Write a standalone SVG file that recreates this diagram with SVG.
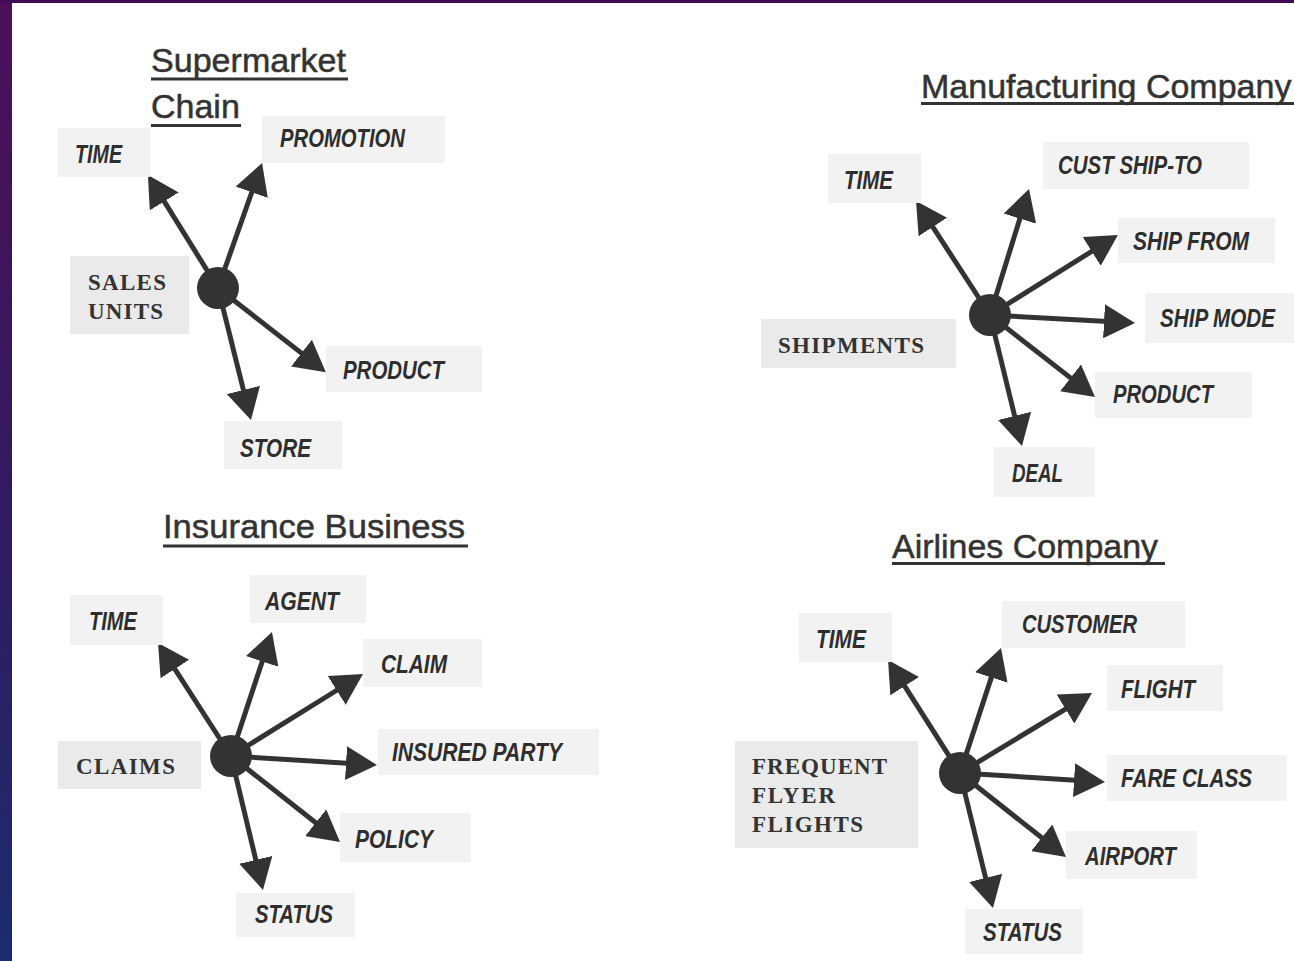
<svg xmlns="http://www.w3.org/2000/svg" width="1294" height="961" viewBox="0 0 1294 961">
<defs>
<linearGradient id="side" x1="0" y1="0" x2="0" y2="1">
<stop offset="0" stop-color="#4a0f57"/>
<stop offset="0.5" stop-color="#32195f"/>
<stop offset="1" stop-color="#1b2c6c"/>
</linearGradient>
<marker id="ah" viewBox="0 0 31 34" refX="13" refY="17" markerWidth="31" markerHeight="34" markerUnits="userSpaceOnUse" orient="auto">
<path d="M0,0 L31,17 L0,34 Z" fill="#333"/>
</marker>
<style>
.dim{fill:#f2f2f2}
.fact{fill:#eaeaea}
.dl{font-family:"Liberation Sans",Arial,sans-serif;font-weight:bold;font-style:italic;font-size:25px;fill:#2e2e2e}
.fl{font-family:"Liberation Serif","Times New Roman",serif;font-weight:bold;font-size:23px;fill:#333}
.tt{font-family:"Liberation Sans",Arial,sans-serif;font-size:34px;fill:#333;stroke:#333;stroke-width:0.5}
.ul{fill:#333}
.hub{fill:#333}
.cn line{stroke:#333;stroke-width:5;marker-end:url(#ah)}
</style>
</defs>
<rect x="0" y="0" width="1294" height="961" fill="#ffffff"/>
<rect x="0" y="0" width="12" height="961" fill="url(#side)"/>
<rect x="0" y="0" width="1294" height="3" fill="#420c54"/>

<g id="titles">
<text class="tt" x="151" y="72" textLength="195" lengthAdjust="spacingAndGlyphs">Supermarket</text>
<rect class="ul" x="151" y="77.5" width="197" height="3"/>
<text class="tt" x="151" y="118">Chain</text>
<rect class="ul" x="151" y="124" width="90" height="3"/>
<text class="tt" x="921" y="98" font-size="35">Manufacturing Company</text>
<rect class="ul" x="921" y="102" width="373" height="3"/>
<text class="tt" x="163" y="538" font-size="35" textLength="302" lengthAdjust="spacingAndGlyphs">Insurance Business</text>
<rect class="ul" x="163" y="544.5" width="305" height="3"/>
<text class="tt" x="892" y="558" textLength="266" lengthAdjust="spacingAndGlyphs">Airlines Company</text>
<rect class="ul" x="892" y="562" width="273" height="3"/>
</g>

<g id="connectors" class="cn">
<!-- Supermarket -->
<line x1="218" y1="288" x2="157.4" y2="190.4"/>
<line x1="218" y1="288" x2="256.1" y2="180"/>
<line x1="218" y1="288" x2="311.7" y2="361.1"/>
<line x1="218" y1="288" x2="246.6" y2="402.6"/>
<!-- Manufacturing -->
<line x1="990" y1="315" x2="925.8" y2="216.1"/>
<line x1="990" y1="315" x2="1023.7" y2="206.2"/>
<line x1="990" y1="315" x2="1102.7" y2="244.5"/>
<line x1="990" y1="315" x2="1117" y2="322"/>
<line x1="990" y1="315" x2="1080.8" y2="385.9"/>
<line x1="990" y1="315" x2="1017.7" y2="428.5"/>
<!-- Insurance -->
<line x1="231" y1="756" x2="167.8" y2="658.1"/>
<line x1="231" y1="756" x2="266.3" y2="649.1"/>
<line x1="231" y1="756" x2="347.7" y2="683.5"/>
<line x1="231" y1="756" x2="359" y2="763.9"/>
<line x1="231" y1="756" x2="325.9" y2="830.8"/>
<line x1="231" y1="756" x2="258.8" y2="872.5"/>
<!-- Airlines -->
<line x1="960" y1="773" x2="897.7" y2="675.2"/>
<line x1="960" y1="773" x2="995.4" y2="665.1"/>
<line x1="960" y1="773" x2="1076.6" y2="702.3"/>
<line x1="960" y1="773" x2="1087" y2="780.9"/>
<line x1="960" y1="773" x2="1051.9" y2="845.8"/>
<line x1="960" y1="773" x2="988.7" y2="890.5"/>
</g>

<!-- Supermarket Chain -->
<g id="sm-hub"><circle class="hub" cx="218" cy="288" r="21"/></g>
<g id="sm-time"><rect class="dim" x="58" y="128" width="92" height="49"/><text class="dl" x="75" y="163" font-size="27" textLength="47" lengthAdjust="spacingAndGlyphs">TIME</text></g>
<g id="sm-promotion"><rect class="dim" x="262" y="116" width="183" height="47"/><text class="dl" x="280" y="147" font-size="23" textLength="125" lengthAdjust="spacingAndGlyphs">PROMOTION</text></g>
<g id="sm-sales"><rect class="fact" x="70" y="256" width="119" height="78"/><text class="fl" x="88" y="290" textLength="78">SALES</text><text class="fl" x="88" y="319" textLength="75">UNITS</text></g>
<g id="sm-product"><rect class="dim" x="326" y="346" width="156" height="46"/><text class="dl" x="343" y="379" font-size="26" textLength="101" lengthAdjust="spacingAndGlyphs">PRODUCT</text></g>
<g id="sm-store"><rect class="dim" x="224" y="421" width="118" height="48"/><text class="dl" x="240" y="457" font-size="27" textLength="71" lengthAdjust="spacingAndGlyphs">STORE</text></g>

<!-- Manufacturing Company -->
<g id="mf-hub"><circle class="hub" cx="990" cy="315" r="21"/></g>
<g id="mf-time"><rect class="dim" x="828" y="154" width="93" height="49"/><text class="dl" x="844" y="189" textLength="49" lengthAdjust="spacingAndGlyphs">TIME</text></g>
<g id="mf-cust"><rect class="dim" x="1043" y="142" width="206" height="47"/><text class="dl" x="1058" y="174" textLength="144" lengthAdjust="spacingAndGlyphs">CUST SHIP-TO</text></g>
<g id="mf-shipfrom"><rect class="dim" x="1118" y="218" width="157" height="45"/><text class="dl" x="1133" y="250" textLength="116" lengthAdjust="spacingAndGlyphs">SHIP FROM</text></g>
<g id="mf-shipmode"><rect class="dim" x="1145" y="293" width="149" height="50"/><text class="dl" x="1160" y="327" textLength="115" lengthAdjust="spacingAndGlyphs">SHIP MODE</text></g>
<g id="mf-product"><rect class="dim" x="1095" y="372" width="157" height="46"/><text class="dl" x="1113" y="403" textLength="100" lengthAdjust="spacingAndGlyphs">PRODUCT</text></g>
<g id="mf-deal"><rect class="dim" x="994" y="447" width="101" height="50"/><text class="dl" x="1012" y="482" textLength="51" lengthAdjust="spacingAndGlyphs">DEAL</text></g>
<g id="mf-shipments"><rect class="fact" x="761" y="319" width="195" height="49"/><text class="fl" x="778" y="353" textLength="146">SHIPMENTS</text></g>

<!-- Insurance Business -->
<g id="in-hub"><circle class="hub" cx="231" cy="756" r="21"/></g>
<g id="in-time"><rect class="dim" x="70" y="595" width="93" height="50"/><text class="dl" x="89" y="630" textLength="48" lengthAdjust="spacingAndGlyphs">TIME</text></g>
<g id="in-agent"><rect class="dim" x="250" y="575" width="116" height="48"/><text class="dl" x="265" y="610" textLength="74" lengthAdjust="spacingAndGlyphs">AGENT</text></g>
<g id="in-claim"><rect class="dim" x="363" y="639" width="119" height="48"/><text class="dl" x="381" y="673" textLength="66" lengthAdjust="spacingAndGlyphs">CLAIM</text></g>
<g id="in-insured"><rect class="dim" x="378" y="729" width="221" height="46"/><text class="dl" x="392" y="761" textLength="170" lengthAdjust="spacingAndGlyphs">INSURED PARTY</text></g>
<g id="in-policy"><rect class="dim" x="340" y="813" width="131" height="49"/><text class="dl" x="355" y="848" textLength="78" lengthAdjust="spacingAndGlyphs">POLICY</text></g>
<g id="in-status"><rect class="dim" x="236" y="893" width="119" height="44"/><text class="dl" x="255" y="923" textLength="78" lengthAdjust="spacingAndGlyphs">STATUS</text></g>
<g id="in-claims"><rect class="fact" x="58" y="741" width="143" height="48"/><text class="fl" x="76" y="774" textLength="99">CLAIMS</text></g>

<!-- Airlines Company -->
<g id="al-hub"><circle class="hub" cx="960" cy="773" r="21"/></g>
<g id="al-time"><rect class="dim" x="799" y="613" width="93" height="49"/><text class="dl" x="816" y="648" textLength="50" lengthAdjust="spacingAndGlyphs">TIME</text></g>
<g id="al-customer"><rect class="dim" x="1002" y="601" width="183" height="47"/><text class="dl" x="1022" y="633" font-size="23" textLength="115" lengthAdjust="spacingAndGlyphs">CUSTOMER</text></g>
<g id="al-flight"><rect class="dim" x="1107" y="665" width="116" height="46"/><text class="dl" x="1121" y="698" textLength="74" lengthAdjust="spacingAndGlyphs">FLIGHT</text></g>
<g id="al-fare"><rect class="dim" x="1107" y="755" width="180" height="46"/><text class="dl" x="1121" y="787" textLength="131" lengthAdjust="spacingAndGlyphs">FARE CLASS</text></g>
<g id="al-airport"><rect class="dim" x="1066" y="831" width="131" height="48"/><text class="dl" x="1085" y="865" textLength="91" lengthAdjust="spacingAndGlyphs">AIRPORT</text></g>
<g id="al-status"><rect class="dim" x="965" y="909" width="118" height="45"/><text class="dl" x="983" y="941" textLength="79" lengthAdjust="spacingAndGlyphs">STATUS</text></g>
<g id="al-ffflights"><rect class="fact" x="735" y="741" width="183" height="107"/><text class="fl" x="752" y="774" textLength="135">FREQUENT</text><text class="fl" x="752" y="803" textLength="83">FLYER</text><text class="fl" x="752" y="832" textLength="111">FLIGHTS</text></g>
</svg>
